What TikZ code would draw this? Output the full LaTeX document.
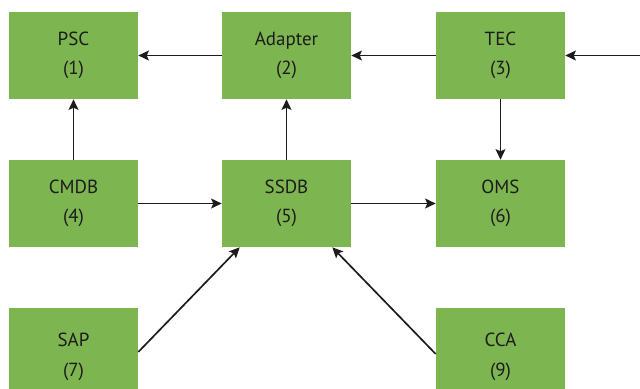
\documentclass[tikz,border=0pt]{standalone}
\usepackage{fontspec}
\setmainfont{PT Sans}
\usepackage{tikz}
\usetikzlibrary{arrows.meta, positioning, calc}
\definecolor{boxgreen}{RGB}{125,181,80}
\definecolor{inkgray}{RGB}{30,27,28}

\begin{document}
\begin{tikzpicture}[x=0.025cm, y=-0.025cm,
	box/.style={fill=boxgreen, draw=none, inner sep=0pt, minimum width=3.225cm,
		minimum height=2.175cm, align=center, text=inkgray,
		font=\fontsize{13.5}{21}\selectfont},
	tallbox/.style={box, minimum height=2.45cm},
	arr/.style={-{Stealth[length=7.5pt, width=7pt, inset=1.5pt]}, line width=1.2pt, inkgray}]
	\useasboundingbox (0,0) rectangle (640,389);
	\clip (0,0) rectangle (640,389);
	% top row
	\node[box] (psc) at (73.5,55.5) {PSC\\(1)};
	\node[box] (adapter) at (286.5,55.5) {Adapter\\(2)};
	\node[box] (tec) at (500.5,55.5) {TEC\\(3)};
	% middle row
	\node[box] (cmdb) at (73.5,203.5) {CMDB\\(4)};
	\node[box] (ssdb) at (286.5,203.5) {SSDB\\(5)};
	\node[box] (oms) at (500.5,203.5) {OMS\\(6)};
	% bottom row
	\node[tallbox] (sap) at (73.5,357) {SAP\\(7)};
	\node[tallbox] (cca) at (500.5,357) {CCA\\(9)};
	\coordinate (feed) at (640,55.5);

	\draw[arr] (adapter) -- (psc);
	\draw[arr] (tec) -- (adapter);
	\draw[arr] (feed) -- (tec);
	\draw[arr] (cmdb) -- (psc);
	\draw[arr] (ssdb) -- (adapter);
	\draw[arr] (tec) -- (oms);
	\draw[arr] (cmdb) -- (ssdb);
	\draw[arr] (ssdb) -- (oms);
	\draw[arr] ([shift={(0,-5)}]sap.east) -- ([shift={(18,0)}]ssdb.south west);
	\draw[arr] ([shift={(0,-3)}]cca.west) -- ([shift={(-19,0)}]ssdb.south east);
\end{tikzpicture}
\end{document}
